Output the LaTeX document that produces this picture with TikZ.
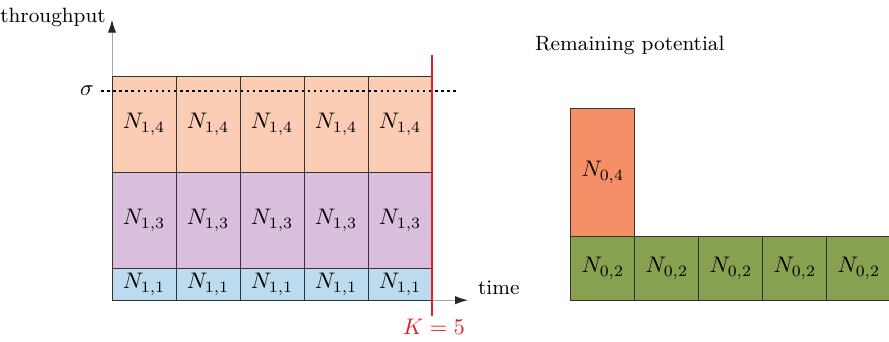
\documentclass[tikz,border=0pt]{standalone}
\usepackage{amsmath,amssymb}
\usepackage{xcolor}
\usetikzlibrary{arrows.meta}
\definecolor{corange}{RGB}{250,205,180}
\definecolor{cpurple}{RGB}{217,191,221}
\definecolor{cblue}{RGB}{189,219,239}
\definecolor{dorange}{RGB}{245,143,104}
\definecolor{cgreen}{RGB}{135,161,80}
\definecolor{kred}{RGB}{230,30,40}

\begin{document}
\begin{tikzpicture}[x=1cm,y=1cm,every node/.style={inner sep=1.5pt},
    cell/.style={draw=black!80,minimum width=1cm,inner sep=0pt,outer sep=0pt},
    txt/.style={font=\fontsize{9.2}{11}\selectfont},
    axis/.style={draw=black!35,-{Latex[length=2mm,width=1.3mm,black!85]}}]
      \useasboundingbox (-1.75,-0.64) rectangle (12.14,4.69);
      % axes
      \coordinate (O) at (0,0);
      \coordinate (ytop) at (0,4.38);
      \coordinate (xend) at (5.56,0);
      \draw[axis] (O) -- (ytop);
      \draw[axis] (O) -- (xend);
      \node[txt,anchor=east] (ylab) at (-0.04,4.42) {throughput};
      \node[txt,anchor=west] (xlab) at (5.66,0.2) {time};
      % slots
      \foreach \i in {1,...,5} {
        \node[cell,fill=cblue,minimum height=0.5cm] (B\i) at (\i-0.5,0.25) {$N_{1,1}$};
        \node[cell,fill=cpurple,minimum height=1.5cm] (P\i) at (\i-0.5,1.25) {$N_{1,3}$};
        \node[cell,fill=corange,minimum height=1.5cm] (R\i) at (\i-0.5,2.75) {$N_{1,4}$};
      }
      % sigma
      \node (sig) at (-0.39,3.27) {$\sigma$};
      \coordinate (s1) at (-0.17,3.27);
      \coordinate (s2) at (5.39,3.27);
      \draw[line width=1.1pt,dash pattern=on 1.1pt off 1.6pt] (s1) -- (s2);
      % K
      \coordinate (k1) at (5,-0.25);
      \coordinate (k2) at (5,3.83);
      \draw[kred,line width=0.9pt] (k1) -- (k2);
      \node[kred] (K) at (5.03,-0.42) {$K=5$};
      % remaining
      \node[txt,anchor=west] (rem) at (6.55,3.98) {Remaining potential};
      \node[cell,fill=dorange,minimum height=2cm] (Q) at (7.67,2) {$N_{0,4}$};
      \foreach \i in {1,...,5} {
        \node[cell,fill=cgreen,minimum height=1cm] (G\i) at (6.67+\i,0.5) {$N_{0,2}$};
      }
    \end{tikzpicture}
\end{document}
